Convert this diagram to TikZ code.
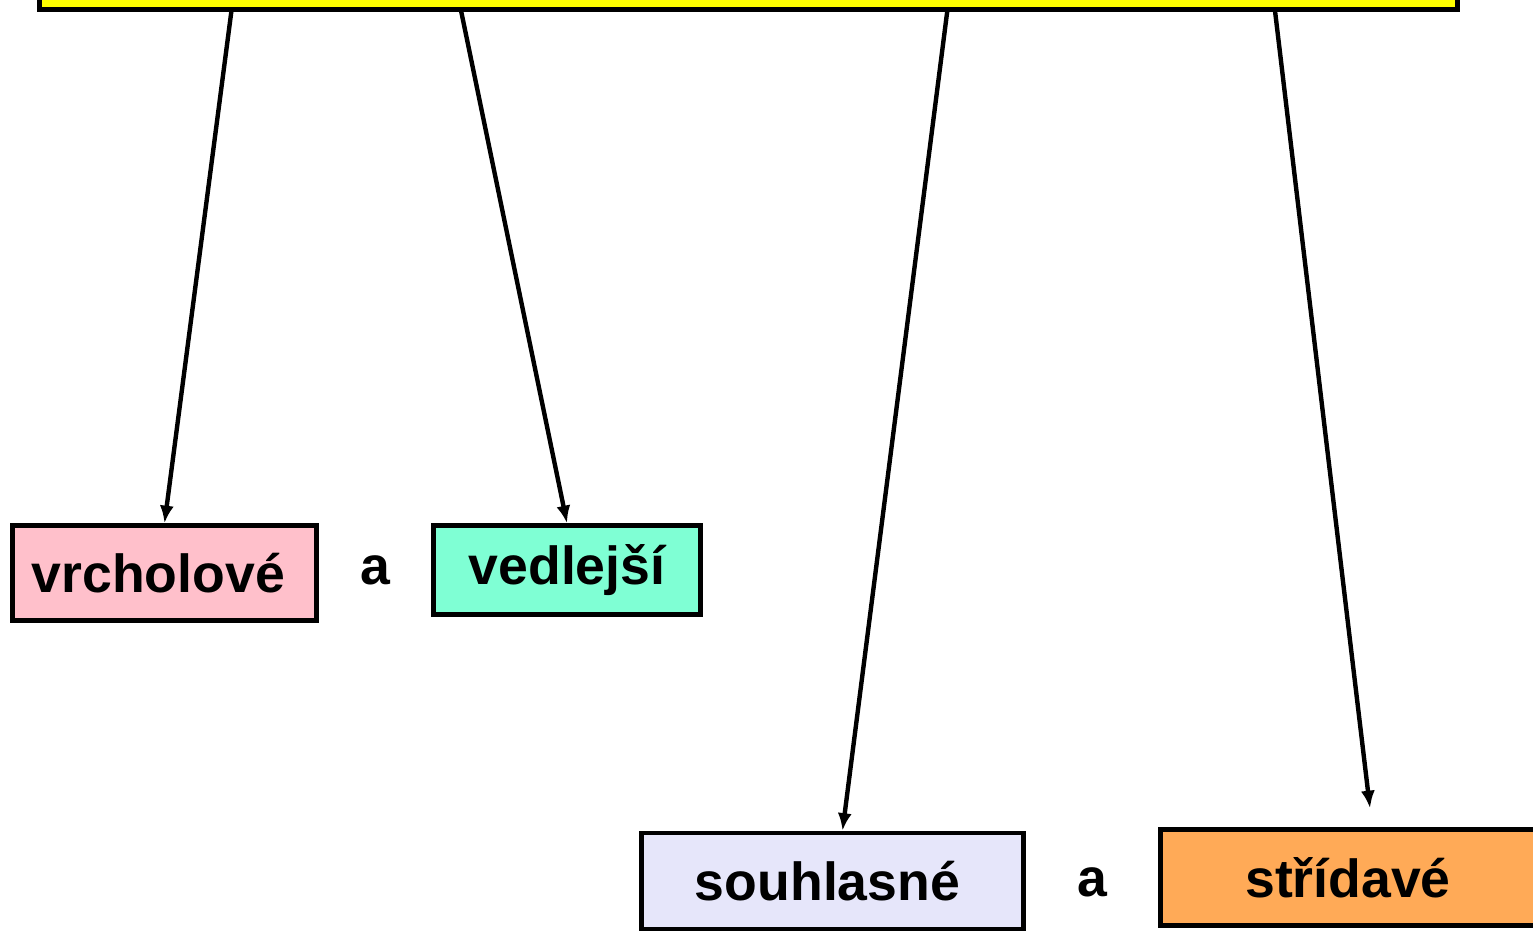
\documentclass[tikz,border=0pt]{standalone}
\usepackage{xcolor}
\usepackage{fontspec}
\setmainfont{Liberation Sans}
\usepackage{tikz}
\usetikzlibrary{arrows.meta,positioning}

\definecolor{boxyellow}{HTML}{FFFF00}
\definecolor{boxpink}{HTML}{FFC0CB}
\definecolor{boxaqua}{HTML}{7FFFD4}
\definecolor{boxlav}{HTML}{E6E6FA}
\definecolor{boxorange}{HTML}{FFAA57}

\begin{document}
\begin{tikzpicture}[x=0.02cm, y=-0.02cm,
    anglebox/.style={draw=black, line width=2.6pt, inner sep=0pt,
        font=\fontsize{30.5}{36}\selectfont\bfseries},
    conj/.style={font=\fontsize{30.5}{36}\selectfont\bfseries},
    arr/.style={line width=2.5pt, -{Latex[length=10pt,width=8pt]}}]
    \useasboundingbox (0,0) rectangle (1533,930);

    % Title box (cut off at the top)
    \node[anglebox, fill=boxyellow, minimum width=28.36cm, minimum height=1.38cm] (top) at (748.5,-25) {};

    % Pairs of angles
    \node[anglebox, fill=boxpink, minimum width=6.08cm, minimum height=1.9cm] (vrch) at (164.5,573) {vrcholové\kern0.25cm};
    \node[conj] (a1) at (375,570) {a};
    \node[anglebox, fill=boxaqua, minimum width=5.34cm, minimum height=1.78cm] (vedl) at (567,570) {vedlejší};

    \node[anglebox, fill=boxlav, minimum width=7.64cm, minimum height=1.92cm] (souh) at (832.5,881) {souhlasné\kern0.2cm};
    \node[conj] (a2) at (1092,882) {a};
    \node[anglebox, fill=boxorange, minimum width=7.5cm, minimum height=1.92cm] (stri) at (1348,877.5) {střídavé};

    % Arrows from the title box
    \draw[arr] ([xshift=3.88cm]top.south west) -- (vrch.north);
    \draw[arr] ([xshift=8.48cm]top.south west) -- (vedl.north);
    \draw[arr] ([xshift=18.2cm]top.south west) -- ([xshift=0.2cm]souh.north);
    \draw[arr] ([xshift=24.76cm]top.south west) -- ([xshift=0.44cm,yshift=0.38cm]stri.north);

\end{tikzpicture}
\end{document}
